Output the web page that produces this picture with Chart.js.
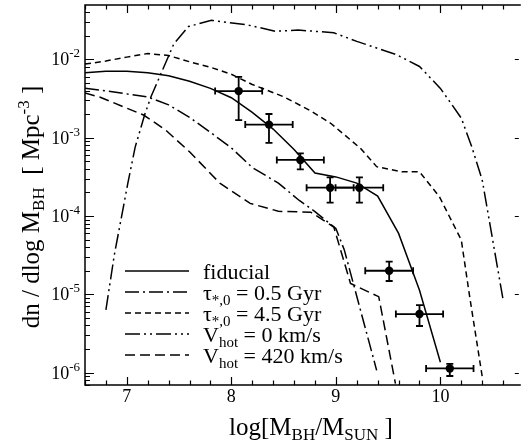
<!DOCTYPE html>
<html>
<head>
<meta charset="utf-8">
<script src="https://cdn.jsdelivr.net/npm/chart.js@4.4.0/dist/chart.umd.min.js"></script>
<style>
  html, body { margin: 0; padding: 0; background: #fff; overflow: hidden; }
  #wrap { width: 523px; height: 445px; }
</style>
</head>
<body>
<div id="wrap"><canvas id="c" width="523" height="445"></canvas></div>
<script>
// Black hole mass function, dn/dlog M_BH [Mpc^-3] vs log(M_BH/M_sun)

// fiducial model
const fidX = [6.6, 6.8, 7.0, 7.2, 7.4, 7.6, 7.8, 8.0, 8.2, 8.4, 8.6, 8.8, 9.0, 9.2, 9.4, 9.6, 9.8, 10.0];
const fidY = [6.76e-3, 7.08e-3, 7.08e-3, 6.76e-3, 6.17e-3, 5.25e-3, 4.27e-3, 3.24e-3, 2.11e-3, 1.29e-3,
              7.08e-4, 3.55e-4, 3.16e-4, 2.63e-4, 1.80e-4, 6.0e-5, 1.13e-5, 1.36e-6];

// tau_*,0 = 0.5 Gyr
const tau05X = [6.6, 6.8, 7.0, 7.2, 7.4, 7.6, 7.8, 8.0, 8.2, 8.45, 8.65, 8.8, 9.0, 9.08, 9.39];
const tau05Y = [4.27e-3, 3.98e-3, 3.63e-3, 3.31e-3, 2.63e-3, 1.82e-3, 1.17e-3, 7.41e-4, 4.17e-4, 2.63e-4,
                1.58e-4, 1.14e-4, 6.92e-5, 3.72e-5, 1.07e-6];

// tau_*,0 = 4.5 Gyr
const tau45X = [6.6, 6.8, 7.0, 7.2, 7.4, 7.6, 7.8, 8.0, 8.2, 8.5, 8.75, 8.95, 9.235, 9.39, 9.63, 9.8, 9.99, 10.2, 10.28, 10.4];
const tau45Y = [8.71e-3, 9.55e-3, 1.07e-2, 1.19e-2, 1.12e-2, 9.33e-3, 7.94e-3, 6.46e-3, 4.79e-3, 3.34e-3,
                2.24e-3, 1.53e-3, 7.33e-4, 4.27e-4, 3.68e-4, 3.68e-4, 1.77e-4, 4.93e-5, 9.33e-6, 8.91e-7];

// V_hot = 0 km/s
const vhot0X = [6.8, 6.88, 7.01, 7.08, 7.17, 7.23, 7.45, 7.59, 7.81, 8.16, 8.42, 8.64, 8.98, 9.2, 9.58, 9.8, 10.0, 10.2, 10.3, 10.4, 10.6];
const vhot0Y = [6.31e-6, 3.16e-5, 2.63e-4, 7.59e-4, 1.95e-3, 3.31e-3, 1.58e-2, 2.63e-2, 3.16e-2, 2.75e-2,
                2.29e-2, 2.37e-2, 2.19e-2, 1.70e-2, 1.15e-2, 8.13e-3, 4.27e-3, 1.78e-3, 7.67e-4, 2.88e-4, 8.51e-6];

// V_hot = 420 km/s
const vhot420X = [6.6, 6.74, 7.16, 7.37, 7.6, 7.89, 8.18, 8.45, 8.76, 8.98, 9.14, 9.2, 9.41, 9.57];
const vhot420Y = [3.72e-3, 3.31e-3, 1.95e-3, 1.26e-3, 6.61e-4, 2.63e-4, 1.45e-4, 1.15e-4, 1.12e-4, 7.24e-5,
                  1.38e-5, 1.26e-5, 9.33e-6, 7.24e-7];

// observed mass function with error bars
const obsX    = [8.07, 8.36, 8.66, 8.945, 9.225, 9.51, 9.80, 10.09];
const obsY    = [3.94e-3, 1.47e-3, 5.2e-4, 2.3e-4, 2.3e-4, 2.0e-5, 5.6e-6, 1.13e-6];
const obsXErr = [0.225, 0.227, 0.225, 0.225, 0.228, 0.229, 0.226, 0.227];
const obsYLo  = [1.68e-3, 8.6e-4, 3.94e-4, 1.48e-4, 1.48e-4, 1.48e-5, 3.94e-6, 9.05e-7];
const obsYHi  = [6.0e-3, 2.01e-3, 6.3e-4, 3.12e-4, 3.12e-4, 2.61e-5, 7.3e-6, 1.29e-6];

// axis ticks
const xMajorTicks = [7, 8, 9, 10];
const xTickLabels = ['7', '8', '9', '10'];
const yDecades = [-6, -5, -4, -3, -2];
const yTickLabels = ['-6', '-5', '-4', '-3', '-2'];

const FONT = '"Liberation Serif", "Times New Roman", "DejaVu Serif", serif';

const pts = (xs, ys) => xs.map((x, i) => ({ x: x, y: ys[i] }));

function line(label, xs, ys, dash) {
  return {
    label: label, data: pts(xs, ys), showLine: true, borderColor: '#000',
    borderWidth: 1.5, borderDash: dash, pointRadius: 0, tension: 0, fill: false
  };
}

const datasets = [
  line('fiducial', fidX, fidY, []),
  line('tau05', tau05X, tau05Y, [14, 4, 2, 4]),
  line('tau45', tau45X, tau45Y, [6, 4]),
  line('vhot0', vhot0X, vhot0Y, [15, 4, 2, 4, 2, 4]),
  line('vhot420', vhot420X, vhot420Y, [10, 5]),
  {
    label: 'obs', data: pts(obsX, obsY), showLine: false,
    pointRadius: 4.2, pointBackgroundColor: '#000', pointBorderColor: '#000', pointBorderWidth: 0
  }
];

// rich text with sub/superscripts: parts = [[text, size, dy], ...]
function richWidth(ctx, parts) {
  let w = 0;
  for (const p of parts) { ctx.font = p[1] + 'px ' + FONT; w += ctx.measureText(p[0]).width; }
  return w;
}
function drawRich(ctx, parts, x, y, align) {
  const w = richWidth(ctx, parts);
  let cx = align === 'center' ? x - w / 2 : (align === 'right' ? x - w : x);
  ctx.textAlign = 'left';
  ctx.textBaseline = 'alphabetic';
  for (const p of parts) {
    ctx.font = p[1] + 'px ' + FONT;
    ctx.fillText(p[0], cx, y + (p[2] || 0));
    cx += ctx.measureText(p[0]).width;
  }
}

const legendRows = [
  { ds: 0, parts: [['fiducial', 22, 0]] },
  { ds: 1, parts: [['\u03C4', 22, 0], ['*,0', 15, 5], [' = 0.5 Gyr', 22, 0]] },
  { ds: 2, parts: [['\u03C4', 22, 0], ['*,0', 15, 5], [' = 4.5 Gyr', 22, 0]] },
  { ds: 3, parts: [['V', 22, 0], ['hot', 15, 5], [' = 0 km/s', 22, 0]] },
  { ds: 4, parts: [['V', 22, 0], ['hot', 15, 5], [' = 420 km/s', 22, 0]] }
];

const framePlugin = {
  id: 'frame',
  afterDatasetsDraw(chart) {
    const ctx = chart.ctx;
    const a = chart.chartArea;
    const xs = chart.scales.x, ys = chart.scales.y;
    ctx.save();
    ctx.strokeStyle = '#000';
    ctx.fillStyle = '#000';

    // error bars
    ctx.lineWidth = 1.8;
    ctx.setLineDash([]);
    for (let i = 0; i < obsX.length; i++) {
      const px = xs.getPixelForValue(obsX[i]);
      const py = ys.getPixelForValue(obsY[i]);
      const x0 = xs.getPixelForValue(obsX[i] - obsXErr[i]);
      const x1 = xs.getPixelForValue(obsX[i] + obsXErr[i]);
      const y0 = ys.getPixelForValue(obsYHi[i]);
      const y1 = ys.getPixelForValue(obsYLo[i]);
      ctx.beginPath();
      ctx.moveTo(x0, py); ctx.lineTo(x1, py);
      ctx.moveTo(x0, py - 3.5); ctx.lineTo(x0, py + 3.5);
      ctx.moveTo(x1, py - 3.5); ctx.lineTo(x1, py + 3.5);
      ctx.moveTo(px, y0); ctx.lineTo(px, y1);
      ctx.moveTo(px - 3.5, y0); ctx.lineTo(px + 3.5, y0);
      ctx.moveTo(px - 3.5, y1); ctx.lineTo(px + 3.5, y1);
      ctx.stroke();
    }

    // frame (left, top, bottom)
    ctx.lineWidth = 1.5;
    ctx.beginPath();
    ctx.moveTo(a.right + 2, a.top); ctx.lineTo(a.left, a.top);
    ctx.lineTo(a.left, a.bottom); ctx.lineTo(a.right + 2, a.bottom);
    ctx.stroke();

    // x ticks, top and bottom
    ctx.lineWidth = 1.2;
    ctx.beginPath();
    for (let k = 0; k <= 40; k++) {
      const v = 6.6 + k * 0.2;
      if (v > xs.max + 1e-6) break;
      const px = Math.round(xs.getPixelForValue(v)) + 0.5;
      const major = Math.abs(v - Math.round(v)) < 1e-6;
      const len = major ? 8 : 4.5;
      ctx.moveTo(px, a.top); ctx.lineTo(px, a.top + len);
      ctx.moveTo(px, a.bottom); ctx.lineTo(px, a.bottom - len);
    }
    // y ticks, left (major + minor) and right (major)
    for (let d = -7; d <= -1; d++) {
      for (let m = 1; m <= 9; m++) {
        const v = m * Math.pow(10, d);
        if (v < ys.min || v > ys.max) continue;
        const py = Math.round(ys.getPixelForValue(v)) + 0.5;
        const len = m === 1 ? 9 : 5;
        ctx.moveTo(a.left, py); ctx.lineTo(a.left + len, py);
        if (m === 1) { ctx.moveTo(a.right, py); ctx.lineTo(a.right - 4, py); }
      }
    }
    ctx.stroke();

    // tick labels
    ctx.fillStyle = '#000';
    xMajorTicks.forEach((v, i) => {
      drawRich(ctx, [[xTickLabels[i], 18, 0]], xs.getPixelForValue(v), 402, 'center');
    });
    yDecades.forEach((d, i) => {
      const py = ys.getPixelForValue(Math.pow(10, d));
      drawRich(ctx, [['10', 18, 0], [yTickLabels[i], 13, -8]], 80, py + 6, 'right');
    });

    // axis titles
    drawRich(ctx, [['log[M', 25, 0], ['BH', 17, 5], ['/M', 25, 0], ['SUN', 17, 5], [' ]', 25, 0]], 311, 435, 'center');
    ctx.save();
    ctx.translate(39, 207);
    ctx.rotate(-Math.PI / 2);
    drawRich(ctx, [['dn / dlog M', 25, 0], ['BH', 17, 5], ['  [ Mpc', 25, 0], ['-3', 17, -10], [' ]', 25, 0]], 0, 0, 'center');
    ctx.restore();

    // legend
    legendRows.forEach((row, i) => {
      const y = 271 + i * 21;
      const ds = chart.data.datasets[row.ds];
      ctx.lineWidth = ds.borderWidth;
      ctx.setLineDash(ds.borderDash);
      ctx.beginPath();
      ctx.moveTo(125, y); ctx.lineTo(189, y);
      ctx.stroke();
      ctx.setLineDash([]);
      drawRich(ctx, row.parts, 203, y + 8, 'left');
    });

    ctx.restore();
  }
};

new Chart(document.getElementById('c'), {
  type: 'scatter',
  data: { datasets: datasets },
  options: {
    responsive: false,
    animation: false,
    devicePixelRatio: 1,
    layout: { padding: { left: 85, top: 5, right: 0, bottom: 60 } },
    plugins: { legend: { display: false }, tooltip: { enabled: false } },
    scales: {
      x: { type: 'linear', min: 6.6, max: 10.75, display: false },
      y: { type: 'logarithmic', min: Math.pow(10, -6.158), max: Math.pow(10, -1.305), display: false }
    }
  },
  plugins: [framePlugin]
});
</script>
</body>
</html>
